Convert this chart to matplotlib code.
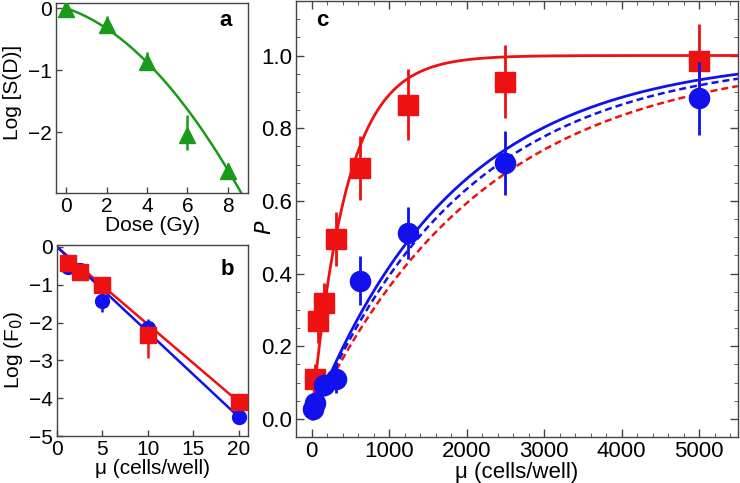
import numpy as np
import matplotlib
matplotlib.use("Agg")
import matplotlib.pyplot as plt
from matplotlib.ticker import MultipleLocator, FormatStrFormatter

plt.rcParams['font.family'] = ['Liberation Sans', 'DejaVu Sans']
plt.rcParams['font.size'] = 15

RED = '#ee1111'
BLUE = '#1111ee'
GREEN = '#1a9a1a'
SPINE = '#444444'

# ---- panel a data ----
dose = [0, 2, 4, 6, 8]
log_s = [-0.02, -0.27, -0.865, -2.05, -2.62]
log_s_err_lo = [0.03, 0.13, 0.14, 0.23, 0.11]
log_s_err_hi = [0.03, 0.15, 0.16, 0.32, 0.12]
lq_alpha = 0.11   # linear coefficient of fit
lq_beta = 0.027   # quadratic coefficient of fit

# ---- panel b data ----
mu_b = [1.25, 2.5, 5, 10, 20]
logf_blue = [-0.52, -0.6, -1.43, -2.15, -4.49]
logf_blue_lo = [0.1, 0.08, 0.3, 0.2, 0.05]
logf_blue_hi = [0.1, 0.08, 0.2, 0.24, 0.05]
logf_red = [-0.43, -0.67, -1.02, -2.33, -4.09]
logf_red_lo = [0.12, 0.12, 0.1, 0.62, 0.05]
logf_red_hi = [0.1, 0.1, 0.1, 0.25, 0.05]
slope_blue = -0.225
slope_red = -0.205

# ---- panel c data ----
mu_c_red = [39, 78, 156, 312, 625, 1250, 2500, 5000]
p_red = [0.11, 0.27, 0.32, 0.495, 0.69, 0.865, 0.928, 0.986]
p_red_err = [0.04, 0.06, 0.055, 0.075, 0.088, 0.097, 0.1, 0.1]
mu_c_blue = [20, 39, 156, 312, 625, 1250, 2500, 5000]
p_blue = [0.027, 0.043, 0.094, 0.111, 0.38, 0.512, 0.703, 0.882]
p_blue_err = [0.03, 0.03, 0.03, 0.04, 0.067, 0.072, 0.088, 0.1]
k_red_solid = 0.00222
k_blue_solid = 0.00054
k_blue_dash = 0.0005
k_red_dash = 0.00045

fig = plt.figure(figsize=(7.4, 4.83), dpi=100)
ax_a = fig.add_axes([0.0757, 0.6004, 0.2595, 0.393])
ax_b = fig.add_axes([0.077, 0.0973, 0.258, 0.3954])
ax_c = fig.add_axes([0.4, 0.0952, 0.597, 0.9027])

for ax, ls in ((ax_a, 15), (ax_b, 15), (ax_c, 16)):
    for s in ax.spines.values():
        s.set_color(SPINE)
        s.set_linewidth(1.0)
    ax.tick_params(direction='in', colors=SPINE, labelcolor='black', labelsize=ls,
                   length=4, width=1.0, pad=3)

# panel a
d = np.linspace(0, 9, 200)
ax_a.plot(d, -(lq_alpha * d + lq_beta * d ** 2), color=GREEN, lw=1.8)
ax_a.errorbar(dose, log_s, yerr=[log_s_err_lo, log_s_err_hi], fmt='^', color=GREEN,
              ms=11, elinewidth=1.8, capsize=0, zorder=3)
ax_a.set_xlim(-0.5, 9.0)
ax_a.set_ylim(-2.98, 0.08)
ax_a.set_xticks([0, 2, 4, 6, 8])
ax_a.set_yticks([0, -1, -2])
ax_a.set_xlabel('Dose (Gy)', fontsize=15, labelpad=0)
ax_a.set_ylabel('Log [S(D)]', fontsize=15)
ax_a.yaxis.set_label_coords(-0.175, 0.53)
ax_a.text(0.885, 0.91, 'a', transform=ax_a.transAxes, fontsize=16, fontweight='bold',
          ha='center', va='center')

# panel b
xb = np.array([0, 20])
ax_b.plot(xb, slope_red * xb, color=RED, lw=1.8)
ax_b.plot(xb, slope_blue * xb, color=BLUE, lw=1.8)
ax_b.errorbar(mu_b, logf_blue, yerr=[logf_blue_lo, logf_blue_hi], fmt='o', color=BLUE,
              ms=10, elinewidth=1.8, capsize=0, zorder=3)
ax_b.errorbar(mu_b, logf_red, yerr=[logf_red_lo, logf_red_hi], fmt='s', color=RED,
              ms=11, elinewidth=1.8, capsize=0, zorder=4)
ax_b.set_xlim(0, 21)
ax_b.set_ylim(-5, 0.05)
ax_b.set_xticks([0, 5, 10, 15, 20])
ax_b.set_yticks([0, -1, -2, -3, -4, -5])
ax_b.set_xlabel('μ (cells/well)', fontsize=15, labelpad=0)
ax_b.set_ylabel('Log (F$_0$)', fontsize=15)
ax_b.yaxis.set_label_coords(-0.17, 0.45)
ax_b.text(0.89, 0.87, 'b', transform=ax_b.transAxes, fontsize=16, fontweight='bold',
          ha='center', va='center')

# panel c
mu = np.linspace(0, 5500, 600)
dash = (0, (2.8, 1.6))
ax_c.plot(mu, 1 - np.exp(-k_red_dash * mu), color=RED, lw=1.8, ls=dash)
ax_c.plot(mu, 1 - np.exp(-k_blue_dash * mu), color=BLUE, lw=1.8, ls=dash)
ax_c.plot(mu, 1 - np.exp(-k_blue_solid * mu), color=BLUE, lw=2.0)
ax_c.plot(mu, 1 - np.exp(-k_red_solid * mu), color=RED, lw=2.0)
ax_c.errorbar(mu_c_red, p_red, yerr=p_red_err, fmt='s', color=RED, ms=14.5,
              elinewidth=2.0, capsize=0, zorder=3)
ax_c.errorbar(mu_c_blue, p_blue, yerr=p_blue_err, fmt='o', color=BLUE, ms=14.5,
              elinewidth=2.0, capsize=0, zorder=4)
ax_c.set_xlim(-200, 5500)
ax_c.set_ylim(-0.05, 1.15)
ax_c.xaxis.set_major_locator(MultipleLocator(1000))
ax_c.xaxis.set_minor_locator(MultipleLocator(200))
ax_c.yaxis.set_major_locator(MultipleLocator(0.2))
ax_c.yaxis.set_minor_locator(MultipleLocator(0.05))
ax_c.yaxis.set_major_formatter(FormatStrFormatter('%.1f'))
ax_c.tick_params(which='both', direction='in', top=True, right=True, colors=SPINE,
                 labelcolor='black')
ax_c.tick_params(which='major', length=6)
ax_c.tick_params(which='minor', length=3)
ax_c.set_xlabel('μ (cells/well)', fontsize=16, labelpad=0)
ax_c.set_ylabel('$P$', fontsize=16)
ax_c.yaxis.set_label_coords(-0.045, 0.48)
ax_c.text(0.059, 0.956, 'c', transform=ax_c.transAxes, fontsize=16, fontweight='bold',
          ha='center', va='center')

fig.savefig('out.png', dpi=100)
